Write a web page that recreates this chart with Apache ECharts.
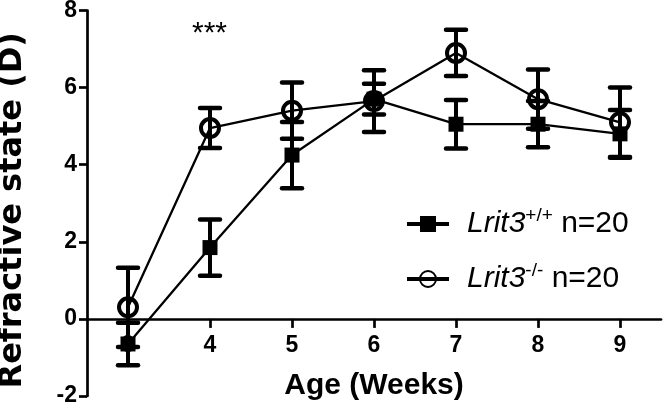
<!DOCTYPE html>
<html>
<head>
<meta charset="utf-8">
<script src="https://cdn.jsdelivr.net/npm/echarts@6/dist/echarts.min.js"></script>
<style>html,body{margin:0;padding:0;background:#fff}#c{width:666px;height:409px}</style>
</head>
<body>
<div id="c"></div>
<script>
// Data
const weeks = ['3', '4', '5', '6', '7', '8', '9'];
const wtMean = [-0.65, 1.85, 4.25, 5.7, 5.05, 5.05, 4.8];
const wtErr  = [0.55, 0.73, 0.86, 0.4, 0.63, 0.6, 0.62];
const koMean = [0.3, 4.95, 5.4, 5.65, 6.9, 5.7, 5.1];
const koErr  = [1.03, 0.52, 0.73, 0.8, 0.6, 0.77, 0.9];
const yTicks = [-2, 0, 2, 4, 6, 8];

const H = 409;
const gridTop = 10.5, gridBottom = 13, gridLeft = 87, gridRight = 5;
const yMin = yTicks[0], yMax = yTicks[yTicks.length - 1];
const zeroLift = ((0 - yMin) / (yMax - yMin)) * (H - gridTop - gridBottom);

const chart = echarts.init(document.getElementById('c'), null, {renderer: 'canvas'});

function errData(mean, err) {
  return mean.map((m, i) => [i, m - err[i], m + err[i]]);
}
function renderErr(params, api) {
  const x = api.value(0), lo = api.value(1), hi = api.value(2);
  const pHi = api.coord([x, hi]);
  const pLo = api.coord([x, lo]);
  const hw = 10;
  const st = {stroke: '#000', lineWidth: 4.5, lineCap: 'round'};
  return {
    type: 'group',
    children: [
      {type: 'line', shape: {x1: pHi[0], y1: pHi[1], x2: pLo[0], y2: pLo[1]}, style: {stroke: '#000', lineWidth: 4}},
      {type: 'line', shape: {x1: pHi[0] - hw, y1: pHi[1], x2: pHi[0] + hw, y2: pHi[1]}, style: st},
      {type: 'line', shape: {x1: pLo[0] - hw, y1: pLo[1], x2: pLo[0] + hw, y2: pLo[1]}, style: st}
    ]
  };
}

const font = 'Liberation Sans, Arial, sans-serif';
const legendRich = {
  i: {fontStyle: 'italic', fontSize: 30, fontFamily: font, color: '#000', padding: [0, 0, 0, 13], lineHeight: 36},
  s: {fontSize: 19, fontFamily: font, color: '#000', verticalAlign: 'top', lineHeight: 36},
  n: {fontSize: 30, fontFamily: font, color: '#000', lineHeight: 36}
};
const legendLabels = {
  WT: '{i|Lrit3}{s|+/+}{n| n=20}',
  KO: '{i|Lrit3}{s|-/-}{n| n=20}'
};

chart.setOption({
  animation: false,
  backgroundColor: '#fff',
  grid: [
    {left: gridLeft, right: gridRight, top: gridTop, bottom: gridBottom, containLabel: false, outerBoundsMode: 'none'},
    {left: gridLeft, right: gridRight, top: gridTop, bottom: gridBottom + zeroLift, containLabel: false, outerBoundsMode: 'none'}
  ],
  xAxis: [
    {
      gridIndex: 0, type: 'category', data: weeks, boundaryGap: true, show: false
    },
    {
      gridIndex: 1,
      type: 'category',
      data: weeks,
      boundaryGap: true,
      axisLine: {show: true, onZero: false, lineStyle: {color: '#000', width: 2.7}},
      axisTick: {show: true, inside: false, interval: 0, alignWithLabel: true, length: 9, lineStyle: {color: '#000', width: 2.7}},
      axisLabel: {color: '#000', fontSize: 23, fontWeight: 'bold', fontFamily: font, margin: 15},
      splitLine: {show: false},
      name: 'Age (Weeks)',
      nameLocation: 'middle',
      nameGap: 52,
      nameTextStyle: {color: '#000', fontSize: 30, fontWeight: 'bold', fontFamily: font}
    }
  ],
  yAxis: [
    {
      gridIndex: 0,
      type: 'value',
      min: yMin,
      max: yMax,
      interval: 2,
      axisLine: {show: true, lineStyle: {color: '#000', width: 2.7}},
      axisTick: {show: true, length: 8, lineStyle: {color: '#000', width: 2.7}},
      axisLabel: {color: '#000', fontSize: 23, fontWeight: 'bold', fontFamily: font, margin: 10},
      splitLine: {show: false},
      name: 'Refractive state (D)',
      nameLocation: 'middle',
      nameGap: 58,
      nameTextStyle: {color: '#000', fontSize: 32, fontWeight: 'bold', fontFamily: 'DejaVu Sans, sans-serif', padding: [0, 14, 0, 0]}
    },
    {
      gridIndex: 1, type: 'value', min: 0, max: 1, show: false
    }
  ],
  legend: {
    data: ['WT', 'KO'],
    orient: 'vertical',
    left: 400,
    top: 201,
    itemWidth: 42,
    itemHeight: 20,
    itemGap: 19,
    selectedMode: false,
    lineStyle: {width: 4},
    formatter: name => legendLabels[name],
    textStyle: {rich: legendRich, lineHeight: 36}
  },
  graphic: [
    {type: 'text', left: 192, top: 19, style: {text: '***', font: '30px ' + font, fill: '#000'}}
  ],
  series: [
    {
      name: 'WT', type: 'line', data: wtMean, xAxisIndex: 0, yAxisIndex: 0,
      symbol: 'rect', symbolSize: 15,
      lineStyle: {color: '#000', width: 2.3},
      itemStyle: {color: '#000'},
      z: 3
    },
    {
      name: 'KO', type: 'line', data: koMean, xAxisIndex: 0, yAxisIndex: 0,
      symbol: 'circle', symbolSize: 18,
      lineStyle: {color: '#000', width: 2.3},
      itemStyle: {color: 'rgba(255,255,255,0)', borderColor: '#000', borderWidth: 4},
      z: 3
    },
    {
      type: 'custom', renderItem: renderErr, data: errData(wtMean, wtErr), xAxisIndex: 0, yAxisIndex: 0,
      encode: {x: 0, y: [1, 2]}, z: 4, silent: true
    },
    {
      type: 'custom', renderItem: renderErr, data: errData(koMean, koErr), xAxisIndex: 0, yAxisIndex: 0,
      encode: {x: 0, y: [1, 2]}, z: 4, silent: true
    }
  ]
});
</script>
</body>
</html>
